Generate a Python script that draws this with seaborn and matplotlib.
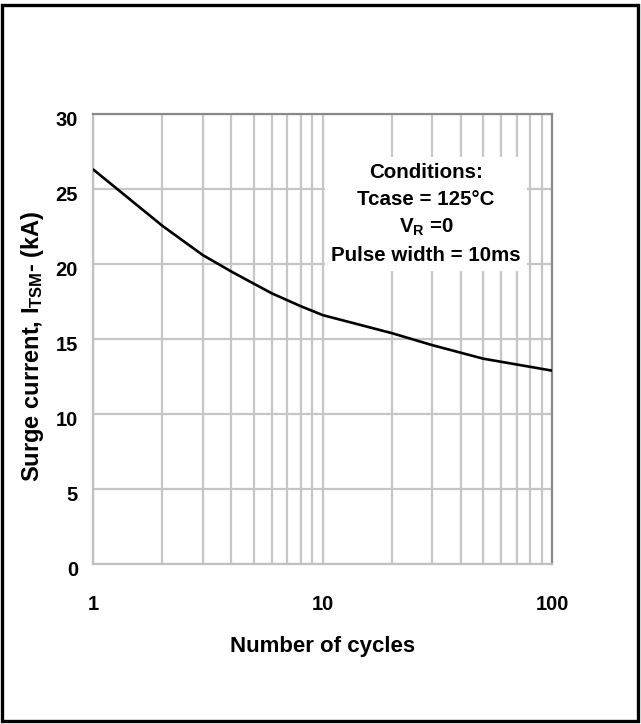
import matplotlib
matplotlib.use("Agg")
import matplotlib.pyplot as plt
import matplotlib.transforms as mtransforms
from matplotlib.patches import Rectangle
from matplotlib.ticker import FixedLocator, FixedFormatter, NullFormatter, LogLocator
import seaborn as sns
import pandas as pd

# Surge current rating vs. number of cycles
cycles = [1, 2, 3, 4, 5, 6, 8, 10, 20, 30, 50, 100]
surge_ka = [26.3, 22.55, 20.6, 19.5, 18.7, 18.05, 17.2, 16.6, 15.4, 14.6, 13.7, 12.9]

x_ticks = [1, 10, 100]
x_tick_labels = ["1", "10", "100"]
y_ticks = [0, 5, 10, 15, 20, 25, 30]

conditions = [
    "Conditions:",
    "Tcase = 125°C",
    r"$\mathbf{V_R}$ =0",
    "Pulse width = 10ms",
]

sns.set_theme(style="white")
plt.rcParams["font.family"] = ["Liberation Sans", "DejaVu Sans"]
plt.rcParams["font.weight"] = "bold"
plt.rcParams["mathtext.fontset"] = "custom"
plt.rcParams["mathtext.rm"] = "Liberation Sans"
plt.rcParams["mathtext.it"] = "Liberation Sans"
plt.rcParams["mathtext.bf"] = "Liberation Sans:bold"

df = pd.DataFrame({"cycles": cycles, "surge": surge_ka})

fig = plt.figure(figsize=(6.41, 7.24), dpi=100)
ax = fig.add_axes([0.1456, 0.2206, 0.716, 0.6219])

sns.lineplot(data=df, x="cycles", y="surge", color="black", linewidth=1.9, ax=ax, zorder=3)

ax.set_xscale("log")
ax.set_xlim(1, 100)
ax.set_ylim(0, 30)

ax.xaxis.set_major_locator(FixedLocator(x_ticks))
ax.xaxis.set_major_formatter(FixedFormatter(x_tick_labels))
ax.xaxis.set_minor_locator(LogLocator(base=10, subs=range(2, 10)))
ax.xaxis.set_minor_formatter(NullFormatter())
ax.set_yticks(y_ticks)

grid_color = "#c6c6c6"
ax.grid(True, axis="x", which="both", color=grid_color, linewidth=1.6, zorder=0)
ax.grid(True, axis="y", which="major", color=grid_color, linewidth=1.6, zorder=0)
ax.set_axisbelow(True)

for side in ("left", "bottom"):
    ax.spines[side].set_color("#c0c0c0")
    ax.spines[side].set_linewidth(1.6)
for side in ("top", "right"):
    ax.spines[side].set_color("#8a8a8a")
    ax.spines[side].set_linewidth(1.6)

ax.tick_params(axis="both", which="both", length=0)
ax.tick_params(axis="x", pad=22, labelsize=14.5, labelcolor="black")
ax.tick_params(axis="y", pad=11, labelsize=14.5, labelcolor="black")
for lbl in ax.get_xticklabels() + ax.get_yticklabels():
    lbl.set_fontweight("bold")

# y labels sit slightly below their gridlines
offset = mtransforms.ScaledTranslation(0, -4 / 100, fig.dpi_scale_trans)
for lbl in ax.get_yticklabels():
    lbl.set_transform(lbl.get_transform() + offset)

ax.set_xlabel("Number of cycles", fontsize=16, fontweight="bold", color="black", labelpad=16)
ax.set_ylabel(r"Surge current, $\mathbf{I_{TSM}}$- (kA)", fontsize=17,
              fontweight="bold", color="black")
ax.yaxis.set_label_coords(-0.104, 0.485)

ax.text(0.725, 0.778, "\n".join(conditions), transform=ax.transAxes,
        ha="center", va="center", fontsize=14.8, fontweight="bold", color="black",
        linespacing=1.5, zorder=4,
        bbox=dict(boxstyle="square,pad=0.3", facecolor="white", edgecolor="none"))

# figure frame
fig.patches.append(Rectangle((0.0039, 0.0035), 0.9914, 0.9896, transform=fig.transFigure,
                             fill=False, edgecolor="black", linewidth=2.4, zorder=10))

fig.savefig("out.png", dpi=100, facecolor="white")
